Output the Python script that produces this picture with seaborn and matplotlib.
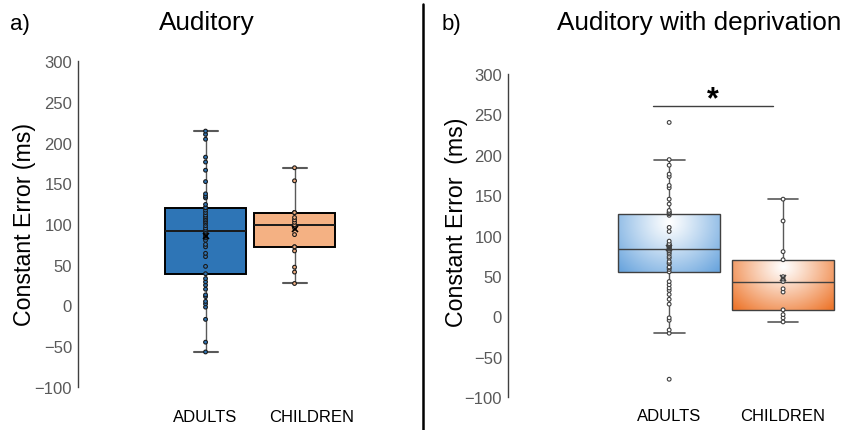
import matplotlib
matplotlib.use("Agg")
import matplotlib.pyplot as plt
import matplotlib.transforms as mtransforms
from matplotlib.lines import Line2D
import numpy as np
import pandas as pd
import seaborn as sns

groups = ["ADULTS", "CHILDREN"]

# a) Auditory  -- constant error (ms) per participant
aud_adults = [-57, -45, -17, -2, 2, 5, 11, 13, 20, 25, 29, 33, 39,
              48, 60, 64, 72, 75, 80, 83, 85, 86, 88, 90, 91, 93, 95, 98,
              101, 103, 105, 107, 109, 111, 114, 117, 120, 120,
              124, 132, 134, 137, 152, 166, 176, 182, 204, 210, 214]
aud_children = [27, 41, 47, 67, 72, 72, 87, 95, 99, 102, 105, 108,
                114, 114, 114, 153, 169]

# b) Auditory with deprivation
dep_adults = [-78, -21, -17, -5, -2, 15, 21, 27, 32, 35, 39, 43,
              55, 58, 60, 61, 65, 66, 68, 72, 74, 77, 79, 81, 83,
              84, 85, 86, 87, 88, 89, 90, 93, 105, 110, 125, 127,
              128, 129, 131, 139, 145, 159, 162, 173, 176, 187, 194, 240]
dep_children = [-7, -2, 2, 8, 30, 34, 43, 46, 49, 70, 80, 118, 145]

W, H = 843, 431
sns.set_style("white")
plt.rcParams["font.family"] = ["Liberation Sans", "DejaVu Sans"]
plt.rcParams["text.color"] = "black"
plt.rcParams["axes.labelcolor"] = "black"


def long_df(adults, children):
    return pd.DataFrame({"group": ["ADULTS"] * len(adults) + ["CHILDREN"] * len(children),
                         "ce": adults + children})


fig = plt.figure(figsize=(W / 100, H / 100), dpi=100)


def px_axes(left, right, top, bottom):
    return fig.add_axes([left / W, 1 - bottom / H, (right - left) / W, (bottom - top) / H])


ax1 = px_axes(78, 400, 62, 388)
ax2 = px_axes(508, 843, 75, 398)

# ---- panel a
df1 = long_df(aud_adults, aud_children)
sns.boxplot(data=df1, x="group", y="ce", hue="group", order=groups, hue_order=groups,
            palette=["#2E75B6", "#F4B183"], saturation=1, width=0.91,
            linecolor="black", linewidth=1.4, showfliers=False, showmeans=True,
            meanprops=dict(marker="x", markeredgecolor="black", markersize=5,
                           markeredgewidth=1.2, zorder=4),
            whiskerprops=dict(color="#595959", linewidth=1),
            capprops=dict(color="#595959", linewidth=1.5),
            medianprops=dict(color="#1a1a1a", linewidth=1.4),
            capwidths=0.27, legend=False, ax=ax1)
sns.stripplot(data=df1, x="group", y="ce", hue="group", order=groups, hue_order=groups,
              palette=["#2E75B6", "#F4B183"], jitter=False, size=2.7, linewidth=0.8,
              edgecolor="#1a1a1a", legend=False, zorder=3, ax=ax1)

# ---- panel b
df2 = long_df(dep_adults, dep_children)
sns.boxplot(data=df2, x="group", y="ce", hue="group", order=groups, hue_order=groups,
            palette=["#9DC3E6", "#F4B183"], saturation=1, width=0.9,
            linecolor="#404040", linewidth=1, showfliers=False, showmeans=True,
            meanprops=dict(marker="x", markeredgecolor="#404040", markersize=5,
                           markeredgewidth=1.1, zorder=4),
            whiskerprops=dict(color="#595959", linewidth=1),
            capprops=dict(color="#595959", linewidth=1.2),
            capwidths=0.27, legend=False, ax=ax2)
sns.stripplot(data=df2, x="group", y="ce", hue="group", order=groups, hue_order=groups,
              palette=["white", "white"], jitter=False, size=2.7, linewidth=0.8,
              edgecolor="#404040", legend=False, zorder=3, ax=ax2)

# gradient fill (white centre -> coloured corners) for panel b boxes
edge_cols = [(0.42, 0.65, 0.87), (0.93, 0.46, 0.17)]
boxes = sorted(ax2.patches, key=lambda p: p.get_path().get_extents().x0)
for patch, col in zip(boxes, edge_cols):
    ext = patch.get_path().get_extents()
    u = np.linspace(-1, 1, 200)[None, :]
    v = np.linspace(0, 1, 120)[:, None]
    d = np.sqrt(u ** 2 + ((v - 0.15) / 0.85) ** 2)
    t = np.clip(d / 1.35, 0, 1) ** 1.1
    img = (1 - t)[..., None] + t[..., None] * np.array(col)
    ax2.imshow(img, extent=(ext.x0, ext.x1, ext.y0, ext.y1), origin="upper",
               aspect="auto", zorder=2.01, clip_path=patch, interpolation="bilinear")
    patch.set_facecolor("none")
    patch.set_zorder(2.02)

# significance bar
ax2.plot([-0.14, 0.91], [260.5, 260.5], color="#404040", lw=1, clip_on=False)
ax2.text(0.386, 259, "*", ha="center", va="baseline", fontsize=22, fontweight="bold")

for ax, xl, xpad in ((ax1, (-1.433, 2.185), 16), (ax2, (-1.415, 1.526), 8)):
    sns.despine(ax=ax, bottom=True)
    ax.spines["left"].set_color("#404040")
    ax.spines["left"].set_linewidth(1)
    ax.set_xlim(*xl)
    ax.set_ylim(-100, 300)
    ax.set_yticks(range(-100, 301, 50))
    ax.tick_params(axis="y", length=0, pad=4.3, labelsize=12, labelcolor="#595959")
    ax.tick_params(axis="x", length=0, pad=xpad, labelsize=12, labelcolor="black")
    ax.set_xlabel("")

ax1.set_ylabel("Constant Error (ms)", fontsize=16.7, va="center")
ax1.yaxis.set_label_coords((25 - 78) / (400 - 78), 0.5)
ax2.set_ylabel("Constant Error  (ms)", fontsize=16.7, va="center")
ax2.yaxis.set_label_coords((457 - 508) / (843 - 508), 0.545)

# CHILDREN label of panel a sits a little right of its box
lab = ax1.xaxis.get_major_ticks()[1].label1
lab.set_transform(lab.get_transform() + mtransforms.ScaledTranslation(0.17, 0, fig.dpi_scale_trans))

fig.text(10 / W, 1 - 30 / H, "a)", fontsize=16, va="baseline")
fig.text(207 / W, 1 - 30 / H, "Auditory", fontsize=18.8, ha="center", va="baseline")
fig.text(442 / W, 1 - 30 / H, "b)", fontsize=16, va="baseline")
fig.text(699 / W, 1 - 30 / H, "Auditory with deprivation", fontsize=18.8, ha="center", va="baseline")
fig.add_artist(Line2D([423 / W, 423 / W], [0, 1 - 5 / H], color="black", lw=1.8))

fig.savefig("out.png", dpi=100)
